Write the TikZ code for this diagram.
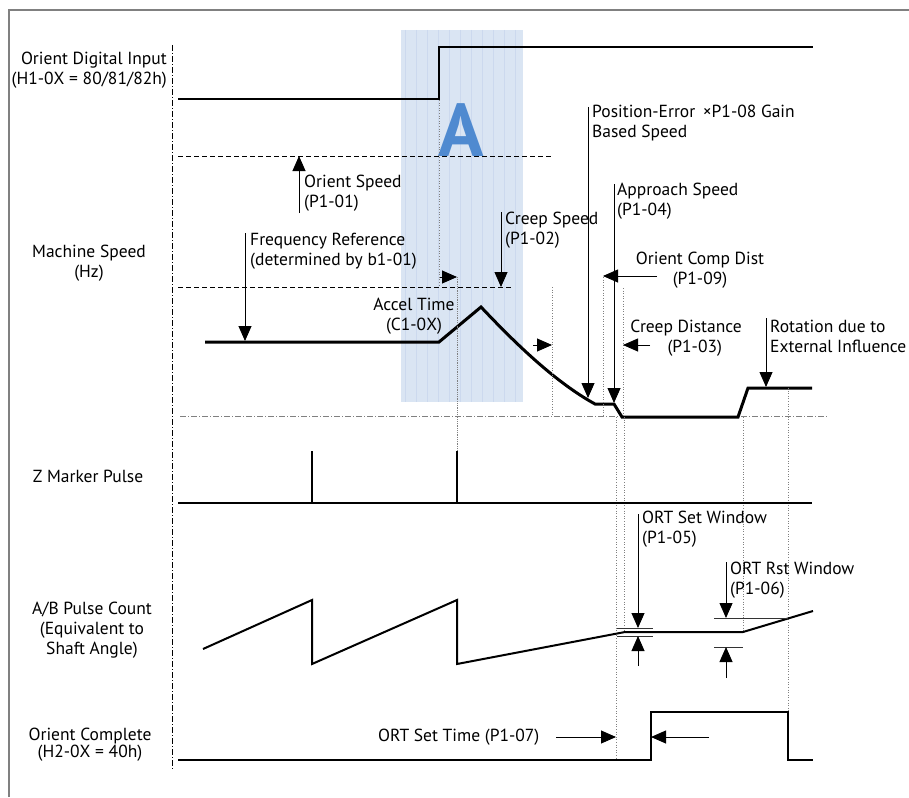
\documentclass[tikz,border=0pt]{standalone}
\usepackage{fontspec}
\setmainfont{PT Sans}
\usetikzlibrary{arrows.meta}
\definecolor{shadeblue}{RGB}{218,229,243}
\definecolor{stripeblue}{RGB}{204,217,238}
\definecolor{letterblue}{RGB}{79,138,208}

\begin{document}
\begin{tikzpicture}[x=1pt,y=-1pt,
    sig/.style={line width=2pt},
    spd/.style={line width=3pt, line join=miter},
    arr/.style={-{Triangle[length=15pt,width=13pt]}, line width=0.9pt},
    guide/.style={gray, line width=0.8pt, dash pattern=on 1pt off 1.6pt},
    lvl/.style={line width=0.9pt, dash pattern=on 5pt off 3pt},
    dashdot/.style={line width=0.8pt, dash pattern=on 6pt off 2pt on 1pt off 2pt},
    lbl/.style={font=\fontsize{17.5}{20}\selectfont, inner sep=0pt, align=left, anchor=west},
    ttl/.style={font=\fontsize{17.5}{20}\selectfont, inner sep=0pt, align=center}]

    \useasboundingbox (0,0) rectangle (909,797);

    % frame and left axis
    \draw[gray, line width=1.5pt] (9,797) -- (9,10) -- (909,10);
    \draw[dashdot] (172,45) -- (172,770);

    % region A
    \fill[shadeblue] (401,30) rectangle (523,402);
    \foreach \x in {405,416,...,520}
    \draw[stripeblue, line width=0.6pt] (\x,30) -- (\x,402);
    \node[font=\fontsize{75}{75}\selectfont\bfseries, text=letterblue, inner sep=0pt] (bigA) at (461,130) {A};

    % signal names
    \node[ttl, align=right, anchor=east] (odiName) at (167,70) {Orient Digital Input\\(H1-0X = 80/81/82h)};
    \node[ttl] (msName) at (89,263) {Machine Speed\\(Hz)};
    \node[ttl] (zmpName) at (88,476) {Z Marker Pulse};
    \node[ttl] (abName) at (92,630) {A/B Pulse Count\\(Equivalent to\\Shaft Angle)};
    \node[ttl, font=\fontsize{17.5}{17}\selectfont] (ocName) at (90,745) {Orient Complete\\(H2-0X = 40h)};

    % orient digital input
    \draw[sig] (178,99) -- (439,99) -- (439,47) -- (813,47);

    % speed levels
    \draw[lvl] (178,156) -- (552,156);
    \draw[lvl] (178,287) -- (513,287);
    \draw[dashdot, gray] (180,416) -- (828,416);

    % machine speed
    \draw[spd] (205,342) -- (439,342) -- (481,307)
    .. controls (515,343) and (555,382) .. (595,404)
    -- (614,404) -- (622,417) -- (738,417) -- (748,388) -- (812,388);

    % guide lines
    \draw[guide] (439,100) -- (439,285);
    \draw[guide, dash pattern=on 1pt off 0.8pt] (457,277) -- (457,451);
    \draw[guide] (552,287) -- (552,417);
    \draw[guide] (603,277) -- (603,417);
    \draw[guide] (623,288) -- (623,417);
    \draw[guide] (616,417) -- (616,760);
    \draw[guide] (624,417) -- (624,632);
    \draw[guide] (743,417) -- (743,632);
    \draw[guide] (788,388) -- (788,712);

    % speed annotations
    \draw[arr] (299,213) -- (299,156);
    \node[lbl] (orientSpd) at (304,193) {Orient Speed\\(P1-01)};
    \draw[arr] (245,233) -- (245,341);
    \node[lbl] (freqRef) at (250,251) {Frequency Reference\\(determined by b1-01)};
    \draw[arr] (440,277) -- (457,277);
    \draw[arr] (533,345) -- (552,345);
    \node[ttl] (accel) at (414,316) {Accel Time\\(C1-0X)};
    \draw[arr] (501,212) -- (501,287);
    \node[lbl] (creepSpd) at (505,230) {Creep Speed\\(P1-02)};
    \draw[arr] (588,107) -- (588,398);
    \node[lbl] (posErr) at (592,123) {Position-Error \,×P1-08 Gain\\Based Speed};
    \draw[arr] (614,184) -- (614,403);
    \node[lbl] (approach) at (617,201) {Approach Speed\\(P1-04)};
    \draw[arr] (657,276) -- (603,276);
    \node[ttl] (compDist) at (700,270) {Orient Comp Dist\\(P1-09)};
    \draw[arr] (650,345) -- (623,345);
    \node[ttl] (creepDist) at (686,338) {Creep Distance\\\hspace*{1em}(P1-03)};
    \draw[arr] (766,318) -- (766,387);
    \node[lbl] (rotation) at (770,336) {Rotation due to\\External Influence};

    % Z marker pulse
    \draw[sig] (178,503) -- (812,503);
    \foreach \x in {312,457}
    \draw[sig] (\x,503) -- (\x,451);

    % A/B pulse count
    \draw[sig, line join=miter] (203,649) -- (312,600) -- (312,664) -- (457,600) -- (457,664)
    -- (625,632) -- (743,632) -- (813,611);
    \draw[black!80, line width=0.9pt] (617,628) -- (653,628);
    \draw[black!80, line width=0.9pt] (617,636) -- (653,636);
    \draw[arr] (638,514) -- (638,628);
    \draw[arr] (638,666) -- (638,636);
    \node[lbl] (setWin) at (642,529) {ORT Set Window\\(P1-05)};
    \draw[black!80, line width=0.9pt] (714,618) -- (788,618);
    \draw[black!80, line width=0.9pt] (714,647) -- (743,647);
    \draw[arr] (726,562) -- (726,618);
    \draw[arr] (726,678) -- (726,647);
    \node[lbl] (rstWin) at (730,580) {ORT Rst Window\\(P1-06)};

    % orient complete
    \draw[sig] (178,760) -- (651,760) -- (651,712) -- (788,712) -- (788,760) -- (813,760);
    \node[lbl] (setTime) at (378,737) {ORT Set Time (P1-07)};
    \draw[arr] (556,737) -- (616,737);
    \draw[arr] (709,737) -- (651,737);
\end{tikzpicture}
\end{document}
